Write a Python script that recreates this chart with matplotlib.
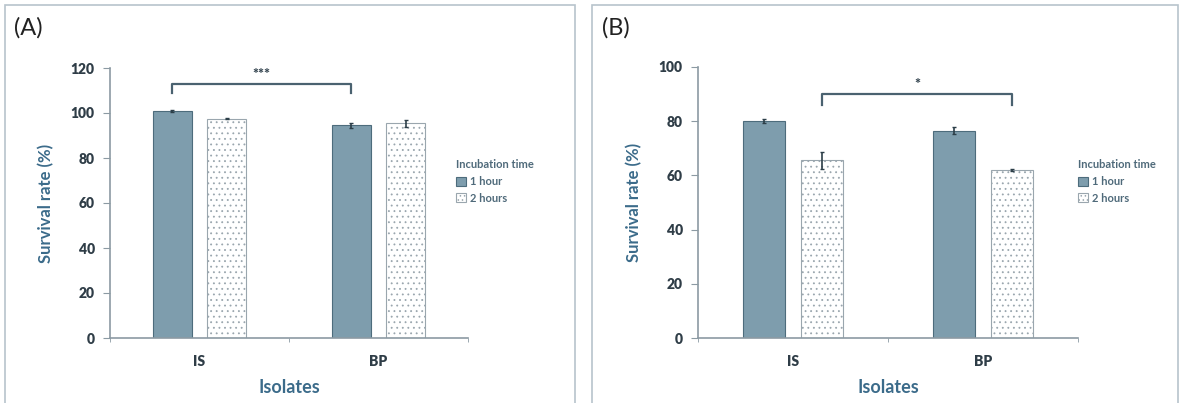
import numpy as np
import matplotlib
matplotlib.use('Agg')
import matplotlib.pyplot as plt
from matplotlib.patches import Rectangle, Patch

plt.rcParams['font.family'] = ['Lato', 'DejaVu Sans']
plt.rcParams['hatch.linewidth'] = 0.6

isolates = ['IS', 'BP']
series = ['1 hour', '2 hours']

# panel A
a_1h = [101.0, 94.5]
a_2h = [97.5, 95.5]
a_1h_err = [0.5, 1.0]
a_2h_err = [0.3, 1.5]

# panel B
b_1h = [80.0, 76.5]
b_2h = [65.5, 62.0]
b_1h_err = [0.8, 1.2]
b_2h_err = [3.0, 0.5]

W, H = 1181, 403
fig = plt.figure(figsize=(W / 100, H / 100), dpi=100)
fig.patch.set_facecolor('white')

teal = '#3b6b8a'
dark = '#2f3d47'
fill1 = '#7e9dad'
edge1 = '#4d6c7c'
edge2 = '#9aa6ae'
axcol = '#8c9aa3'

# panel frames
for x0, x1 in [(5, 575), (592, 1178)]:
    fig.patches.append(Rectangle((x0 / W, -0.02), (x1 - x0) / W, 1 - 5 / H + 0.02,
                                 transform=fig.transFigure, fill=False,
                                 edgecolor='#b8c4cc', lw=1.2))


def panel(rect, v1, v2, e1, e2, ymax, letter, letter_x, bracket, leg_x):
    ax = fig.add_axes(rect)
    x = np.arange(len(isolates))
    w = 0.22
    off = 0.152
    ax.bar(x - off, v1, w, color=fill1, edgecolor=edge1, lw=0.8, zorder=2)
    ax.bar(x + off, v2, w, color='white', edgecolor=edge2, hatch='...', lw=0.8, zorder=2)
    ax.errorbar(x - off, v1, yerr=e1, fmt='none', ecolor='#2c3e48', capsize=1.5, lw=1.2, zorder=3)
    ax.errorbar(x + off, v2, yerr=e2, fmt='none', ecolor='#2c3e48', capsize=1.5, lw=1.2, zorder=3)
    ax.set_xlim(-0.5, 1.5)
    ax.set_ylim(0, ymax)
    ax.set_yticks(np.arange(0, ymax + 1, 20))
    ax.set_xticks(x)
    ax.set_xticklabels(isolates)
    ax.set_xticks([-0.5, 0.5, 1.5], minor=True)
    ax.tick_params(axis='x', which='major', length=0, pad=12)
    ax.tick_params(axis='x', which='minor', length=3, color=axcol, direction='out')
    ax.tick_params(axis='y', length=5, color=axcol, direction='out', pad=6)
    for lab in ax.get_xticklabels() + ax.get_yticklabels():
        lab.set_fontsize(10)
        lab.set_fontweight('heavy')
        lab.set_color(dark)
    for s in ['top', 'right']:
        ax.spines[s].set_visible(False)
    for s in ['left', 'bottom']:
        ax.spines[s].set_color(axcol)
        ax.spines[s].set_linewidth(1.2)
    ax.set_ylabel('Survival rate (%)', fontsize=12, fontweight='bold', color=teal, labelpad=12)
    ax.set_xlabel('Isolates', fontsize=13, fontweight='bold', color=teal, labelpad=8)

    # significance bracket
    bx0, bx1, by, tip, star = bracket
    ax.plot([bx0, bx0, bx1, bx1], [tip, by, by, tip], color='#4a6270', lw=1.6,
            clip_on=False, zorder=4)
    ax.text((bx0 + bx1) / 2, by + ymax * 0.01, star, ha='center', va='bottom',
            fontsize=10, fontweight='heavy', color='#3a4a55')

    fig.text(letter_x / W, 1 - 28 / H, letter, fontsize=17, color='#222222',
             ha='left', va='center')

    handles = [Patch(facecolor=fill1, edgecolor=edge1, lw=0.8),
               Patch(facecolor='white', edgecolor=edge2, hatch='....', lw=0.8)]
    leg = fig.legend(handles, series, title='Incubation time', loc='upper left',
                     bbox_to_anchor=(leg_x / W, 1 - 155 / H), frameon=False,
                     fontsize=8, title_fontsize=8, handlelength=0.9,
                     handleheight=0.9, handletextpad=0.3, labelspacing=0.5,
                     borderaxespad=0, alignment='left')
    leg.get_title().set_fontweight('bold')
    leg.get_title().set_color('#4f6a7a')
    for t in leg.get_texts():
        t.set_fontweight('bold')
        t.set_color('#4f6a7a')
    return ax


panel([110 / W, 65 / H, 358 / W, 270 / H], a_1h, a_2h, a_1h_err, a_2h_err,
      120, '(A)', 14, (-0.152, 0.848, 113.0, 109.0, '***'), 452)
panel([698 / W, 65 / H, 380 / W, 271 / H], b_1h, b_2h, b_1h_err, b_2h_err,
      100, '(B)', 602, (0.152, 1.152, 90.0, 86.0, '*'), 1074)

fig.savefig('out.png', dpi=100)
